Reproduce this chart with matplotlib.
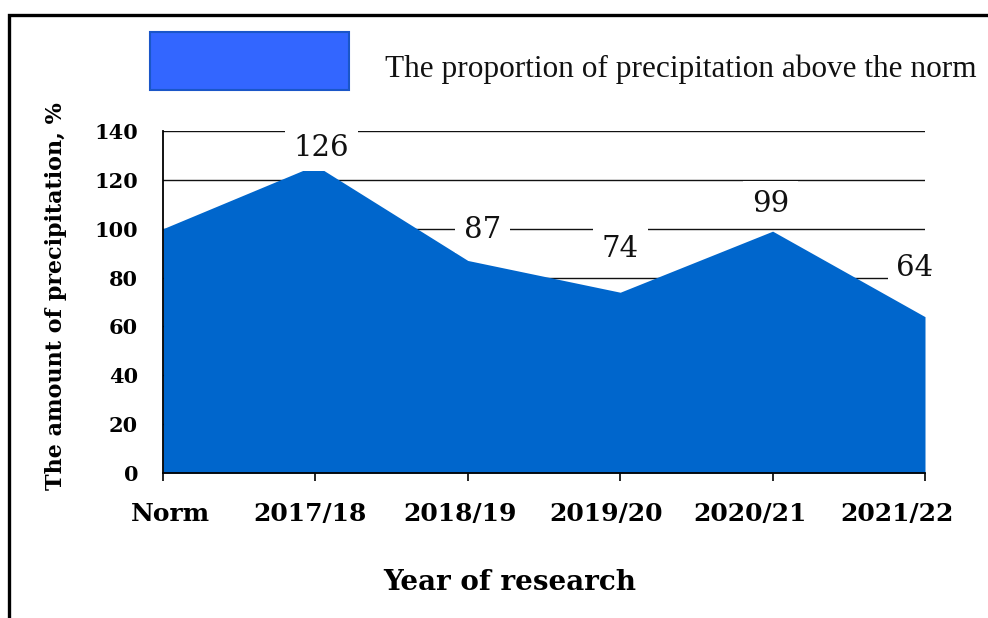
import matplotlib
matplotlib.use('Agg')
import matplotlib.pyplot as plt
from matplotlib.patches import Rectangle
import matplotlib.transforms as mtransforms

categories = ['Norm', '2017/18', '2018/19', '2019/20', '2020/21', '2021/22']
values = [100, 126, 87, 74, 99, 64]
yticks = [0, 20, 40, 60, 80, 100, 120, 140]
legend_label = 'The proportion of precipitation above the norm'
ylabel = 'The amount of precipitation, %'
xlabel = 'Year of research'

plt.rcParams['font.family'] = ['DejaVu Serif']

W, H = 988, 618
fig = plt.figure(figsize=(W / 100, H / 100), dpi=100)
fig.patch.set_facecolor('white')

def fx(px):
    return px / W

def fy(py):
    return 1 - py / H

ax = fig.add_axes([fx(163), fy(473), fx(925) - fx(163), fy(131) - fy(473)])
x = list(range(len(categories)))
ax.fill_between(x, values, 0, color='#0066CC', lw=0, zorder=2)
ax.set_xlim(0, len(categories) - 1)
ax.set_ylim(0, 140)
ax.set_yticks(yticks)
ax.set_axisbelow(True)
ax.yaxis.grid(True, color='#111111', lw=1.0)
for s in ['top', 'right']:
    ax.spines[s].set_visible(False)
for s in ['left', 'bottom']:
    ax.spines[s].set_color('black')
    ax.spines[s].set_linewidth(1.3)
    ax.spines[s].set_zorder(3)

ax.tick_params(axis='y', length=0, pad=18, labelsize=15)
ax.tick_params(axis='x', length=6, width=1.2, direction='out', pad=15, labelsize=18)
ax.set_xticks(x)
ax.set_xticklabels(categories, fontweight='bold')
for lab in ax.get_yticklabels():
    lab.set_fontweight('bold')

# shift x tick labels like the original layout
label_dx = [7, -5, -8, -14, -23, -28]
for lab, dx in zip(ax.get_xticklabels(), label_dx):
    lab.set_transform(lab.get_transform() + mtransforms.ScaledTranslation(dx / 100, 0, fig.dpi_scale_trans))

# data labels (skip the Norm point)
label_off = [(6, 17), (15, 30), (0, 43), (-2, 27), (-10, 49)]
for i, (dx, dy) in zip(x[1:], label_off):
    ax.annotate(str(values[i]), (i, values[i]), xytext=(dx * 0.72, dy * 0.72),
                textcoords='offset points', ha='center', va='center',
                fontsize=21, color='#111111', zorder=5,
                bbox=dict(boxstyle='square,pad=0.3', fc='white', ec='none'),
                annotation_clip=False)

# legend
fig.patches.append(Rectangle((fx(150), fy(90)), fx(349) - fx(150), fy(32) - fy(90),
                             transform=fig.transFigure, fc='#3366FF', ec='#1A56C8', lw=1.5))
fig.text(fx(385), fy(77), legend_label, family=['Liberation Serif'], fontsize=22.5,
         va='baseline', ha='left', color='#111111')

# axis titles
fig.text(fx(56), fy(296), ylabel, rotation=90, ha='center', va='center',
         fontsize=16, fontweight='bold')
fig.text(fx(510), fy(582), xlabel, ha='center', va='center',
         fontsize=20, fontweight='bold')

# outer frame
fig.patches.append(Rectangle((fx(8.5), fy(640)), fx(1010) - fx(8.5), fy(15) - fy(640),
                             transform=fig.transFigure, fill=False, ec='black', lw=2.4,
                             clip_on=False))

fig.savefig('out.png', dpi=100, facecolor='white')
